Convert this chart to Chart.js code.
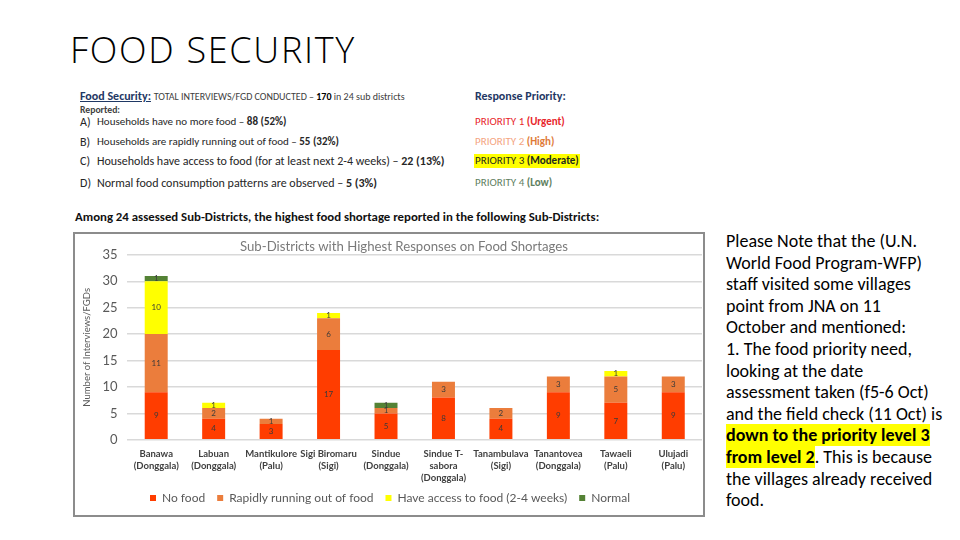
<!DOCTYPE html>
<html>
<head>
<meta charset="utf-8">
<script src="https://cdn.jsdelivr.net/npm/chart.js@4.4.1/dist/chart.umd.min.js"></script>
<style>
  html, body { margin: 0; padding: 0; background: #ffffff; }
  body { width: 960px; height: 540px; position: relative; overflow: hidden; font-family: Carlito, Lato, "Open Sans", sans-serif; }
  .abs { position: absolute; white-space: nowrap; }
  #mainTitle { left: 70px; top: 25px; font-family: "Open Sans", Lato, sans-serif; font-weight: 300; font-size: 36px; color: #000; letter-spacing: 1.7px; }
  .hdr { font-size: 12px; color: #262626; line-height: 14px; }
  .blue { color: #1F3864; font-weight: bold; }
  #chartBox { position: absolute; left: 73px; top: 232px; width: 628px; height: 281px; border: 2px solid #8c8c8c; }
  #chartBox canvas { position: absolute; left: 0; top: 0; }
  .note { font-size: 18px; color: #000; line-height: 21.6px; }
  .hl { background: #FFFF00; font-weight: bold; }
</style>
</head>
<body>
<div id="mainTitle" class="abs">FOOD SECURITY</div>

<div class="abs hdr" style="left:80px;top:89px;"><span class="blue" style="text-decoration:underline;font-size:12px;">Food Security:</span> <span style="font-size:10px;color:#404040;">TOTAL INTERVIEWS/FGD CONDUCTED – <b style="color:#000">170</b> in 24 sub districts</span></div>
<div class="abs hdr" style="left:80px;top:103px;font-size:9.7px;color:#404040;font-weight:bold;">Reported:</div>
<div class="abs hdr" style="left:80px;top:115px;">A)</div>
<div class="abs hdr" style="left:97px;top:115px;font-size:11px;">Households have no more food – <b>88 (52%)</b></div>
<div class="abs hdr" style="left:80px;top:135px;">B)</div>
<div class="abs hdr" style="left:97px;top:135px;font-size:11px;">Households are rapidly running out of food – <b>55 (32%)</b></div>
<div class="abs hdr" style="left:80px;top:154px;">C)</div>
<div class="abs hdr" style="left:97px;top:154px;">Households have access to food (for at least next 2-4 weeks) – <b>22 (13%)</b></div>
<div class="abs hdr" style="left:80px;top:176px;">D)</div>
<div class="abs hdr" style="left:97px;top:176px;">Normal food consumption patterns are observed – <b>5 (3%)</b></div>

<div class="abs hdr blue" style="left:475px;top:89px;font-size:12px;">Response Priority:</div>
<div class="abs hdr" style="left:475px;top:115px;color:#E8262B;font-size:11px;">PRIORITY 1 <b>(Urgent)</b></div>
<div class="abs hdr" style="left:475px;top:135px;color:#F4A582;font-size:11px;">PRIORITY 2 <b style="color:#E07B39;">(High)</b></div>
<div class="abs hdr" style="left:474px;top:154px;background:#FFFF00;padding:0 1px;color:#1e2a1e;font-size:11px;">PRIORITY 3 <b>(Moderate)</b></div>
<div class="abs hdr" style="left:475px;top:176px;color:#5f7f5f;font-size:11px;">PRIORITY 4 <b>(Low)</b></div>

<div class="abs hdr" style="left:75px;top:210px;font-weight:bold;font-size:12.8px;color:#111;">Among 24 assessed Sub-Districts, the highest food shortage reported in the following Sub-Districts:</div>

<div id="chartBox"><canvas id="c" width="628" height="281"></canvas></div>

<div class="abs note" style="left:726px;top:231px;">
Please Note that the (U.N.<br>
World Food Program-WFP)<br>
staff visited some villages<br>
point from JNA on 11<br>
October and mentioned:<br>
1. The food priority need,<br>
looking at the date<br>
assessment taken (f5-6 Oct)<br>
and the field check (11 Oct) is<br>
<span class="hl">down to the priority level 3</span><br>
<span class="hl">from level 2</span>. This is because<br>
the villages already received<br>
food.
</div>

<script>
const categories = [
  ["Banawa", "(Donggala)"],
  ["Labuan", "(Donggala)"],
  ["Mantikulore", "(Palu)"],
  ["Sigi Biromaru", "(Sigi)"],
  ["Sindue", "(Donggala)"],
  ["Sindue T-", "sabora", "(Donggala)"],
  ["Tanambulava", "(Sigi)"],
  ["Tanantovea", "(Donggala)"],
  ["Tawaeli", "(Palu)"],
  ["Ulujadi", "(Palu)"]
];
const noFood      = [9, 4, 3, 17, 5, 8, 4, 9, 7, 9];
const rapidlyOut  = [11, 2, 1, 6, 1, 3, 2, 3, 5, 3];
const haveAccess  = [10, 1, 0, 1, 0, 0, 0, 0, 1, 0];
const normal      = [1, 0, 0, 0, 1, 0, 0, 0, 0, 0];
const seriesNames = ["No food", "Rapidly running out of food", "Have access to food (2-4 weeks)", "Normal"];
const yTicks = [0, 5, 10, 15, 20, 25, 30, 35];
const chartTitle = "Sub-Districts with Highest Responses on Food Shortages";
const yAxisTitle = "Number of Interviews/FGDs";

const colors = ["#FF3D00", "#EB7D3C", "#FFFF00", "#548235"];

const valueLabels = {
  id: "valueLabels",
  afterDatasetsDraw(chart) {
    const ctx = chart.ctx;
    ctx.save();
    ctx.font = "8px Lato, sans-serif";
    ctx.fillStyle = "#3a3a3a";
    ctx.textAlign = "center";
    ctx.textBaseline = "middle";
    chart.data.datasets.forEach((ds, i) => {
      const meta = chart.getDatasetMeta(i);
      meta.data.forEach((el, j) => {
        const v = ds.data[j];
        if (!v) return;
        ctx.fillText(String(v), el.x, (el.y + el.base) / 2);
      });
    });
    ctx.restore();
  }
};

const shiftBoxes = {
  id: "shiftBoxes",
  afterLayout(chart) {
    if (chart.titleBlock) { chart.titleBlock.left += 14; chart.titleBlock.right += 14; }
    if (chart.legend) { chart.legend.top -= 12; chart.legend.bottom -= 12; }
  }
};

new Chart(document.getElementById("c"), {
  type: "bar",
  data: {
    labels: categories,
    datasets: [noFood, rapidlyOut, haveAccess, normal].map((d, i) => ({
      label: seriesNames[i],
      data: d,
      backgroundColor: colors[i],
      borderWidth: 0,
      categoryPercentage: 0.4,
      barPercentage: 1.0
    }))
  },
  options: {
    responsive: false,
    animation: false,
    devicePixelRatio: 1,
    layout: { padding: { left: 3, right: 1, top: 0, bottom: -11 } },
    plugins: {
      title: {
        display: true,
        text: chartTitle,
        color: "#7a7a7a",
        font: { family: "Lato, sans-serif", size: 13.2, weight: "normal" },
        padding: { top: 5, bottom: 0 }
      },
      legend: {
        position: "bottom",
        labels: {
          boxWidth: 6,
          boxHeight: 6,
          color: "#595959",
          font: { family: "Lato, sans-serif", size: 12 },
          padding: 12
        }
      },
      tooltip: { enabled: false }
    },
    scales: {
      x: {
        stacked: true,
        grid: { display: false, drawTicks: false },
        border: { display: false },
        ticks: {
          autoSkip: false,
          maxRotation: 0,
          minRotation: 0,
          color: "#404040",
          padding: 8,
          font: { family: "Lato, sans-serif", size: 9.5, weight: "bold", lineHeight: 1.27 }
        }
      },
      y: {
        stacked: true,
        min: 0,
        max: 35,
        afterBuildTicks(scale) { scale.ticks = yTicks.map(v => ({ value: v })); },
        grid: { color: "#d9d9d9", lineWidth: 1.5, drawTicks: false },
        border: { display: false },
        ticks: {
          color: "#595959",
          padding: 10,
          font: { family: "Lato, sans-serif", size: 13 }
        },
        title: {
          display: true,
          text: yAxisTitle,
          color: "#595959",
          font: { family: "Lato, sans-serif", size: 9.5 },
          padding: { top: 3, bottom: 0 }
        }
      }
    }
  },
  plugins: [valueLabels, shiftBoxes]
});
</script>
</body>
</html>
